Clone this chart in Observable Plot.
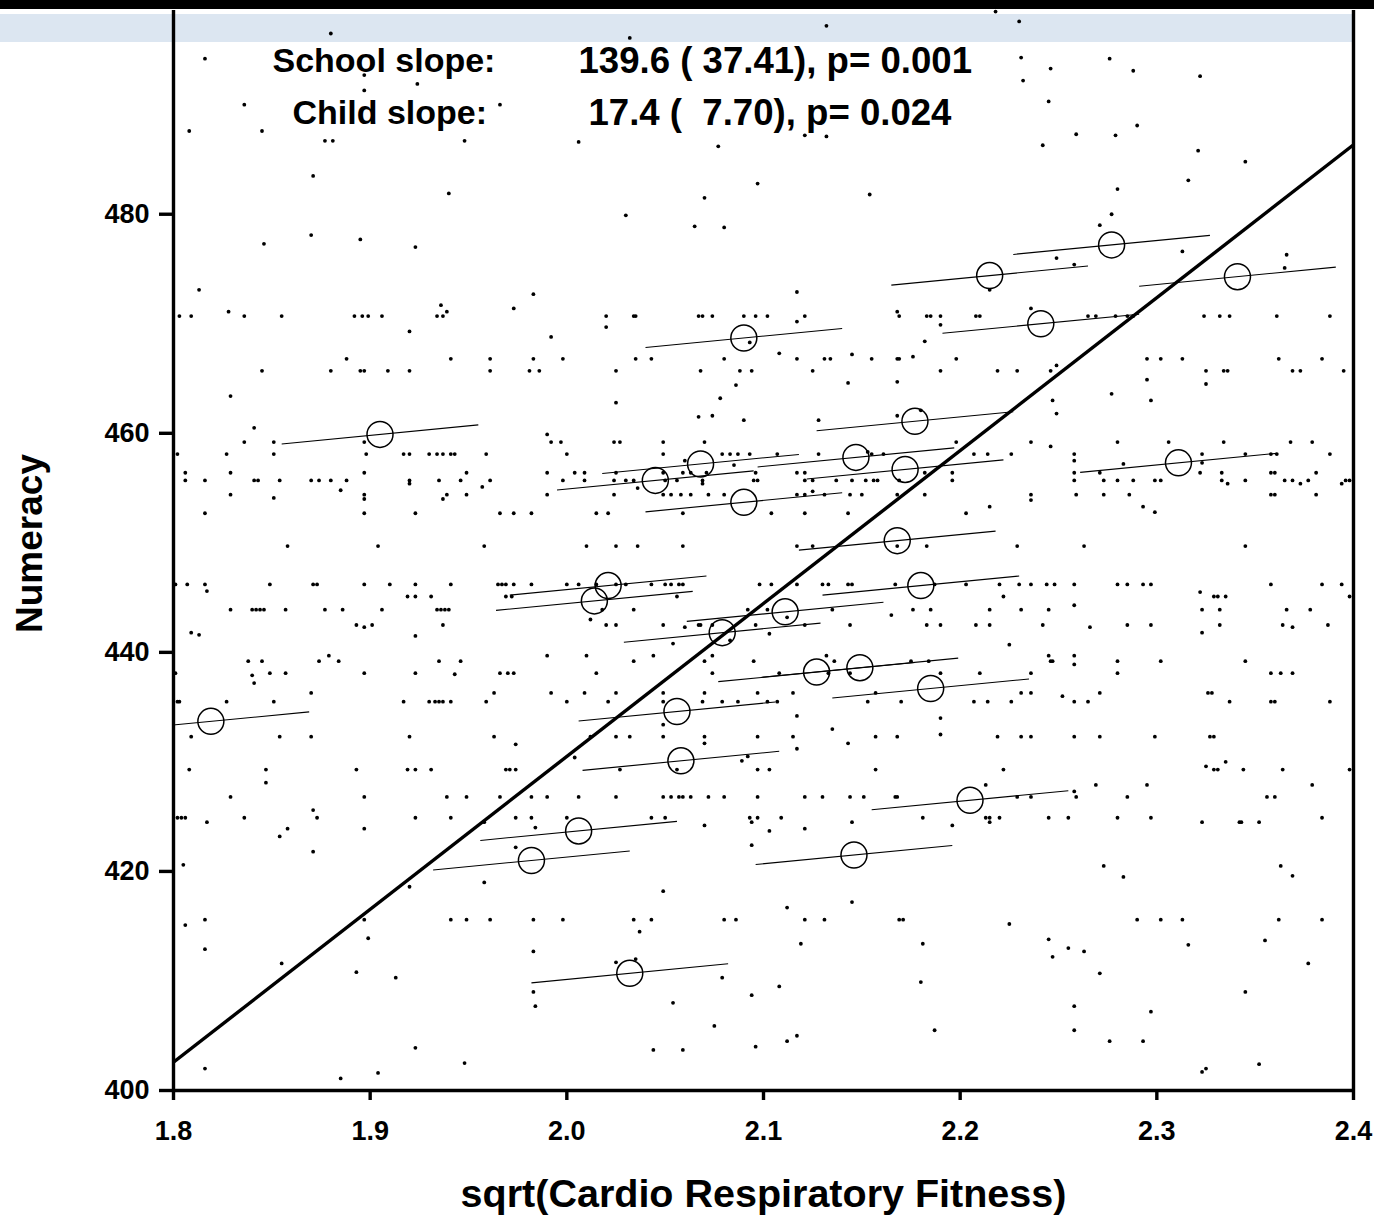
<!DOCTYPE html>
<html>
<head>
<meta charset="utf-8">
<script src="https://cdn.jsdelivr.net/npm/d3@7"></script>
<script src="https://cdn.jsdelivr.net/npm/@observablehq/plot@0.6"></script>
<style>
  body { margin: 0; background: #fff; }
  #wrap { position: relative; width: 1374px; height: 1218px; overflow: hidden; }
  #band { position: absolute; left: 0; top: 14px; width: 1353px; height: 28px; background: #dce6f1; }
  #chart { position: absolute; left: 0; top: 0; }
  #bar { position: absolute; left: 0; top: 0; width: 1374px; height: 9px; background: #000; }
</style>
</head>
<body>
<div id="wrap">
  <div id="band"></div>
  <div id="chart"></div>
  <div id="bar"></div>
</div>
<script>
// Axis domains and ticks
const xDomain = [1.8, 2.4];
const yDomain = [400, 498.6];
const xTicks = [1.8, 1.9, 2.0, 2.1, 2.2, 2.3, 2.4];
const yTicks = [400, 420, 440, 460, 480];

// Multilevel model estimates
const schoolSlope = 139.6;
const schoolIntercept = 151.3;
const childSlope = 17.4;
const childHalfSpan = 0.05; // half-width of each within-school line, in x units
const schoolLabel = "School slope:";
const schoolStat = "139.6 ( 37.41), p= 0.001";
const childLabel = "Child slope:";
const childStat = "17.4 (  7.70), p= 0.024";

// School means (open circles)
const schoolX = [1.819, 1.905, 2.090, 2.215, 2.277, 2.341, 2.241, 2.177, 2.147, 2.172,
  2.068, 2.045, 2.090, 2.311, 2.168, 2.021, 2.014, 2.180, 2.111, 2.079,
  2.127, 2.149, 2.185, 2.056, 2.058, 2.205, 2.006, 1.982, 2.146, 2.032];
const schoolY = [433.7, 459.9, 468.7, 474.4, 477.2, 474.3, 470.0, 461.1, 457.8, 456.7,
  457.2, 455.7, 453.7, 457.3, 450.2, 446.1, 444.7, 446.1, 443.7, 441.8,
  438.2, 438.6, 436.7, 434.6, 430.1, 426.5, 423.7, 421.0, 421.5, 410.7];

// Children sharing a numeracy score: [score, fitness values]
const childRows = [
  [470.7, [1.803, 1.809, 1.836, 1.855, 1.892, 1.896, 1.899, 1.906, 1.934, 1.937, 2.020, 2.034, 2.035, 2.067, 2.069, 2.074, 2.090, 2.096, 2.102, 2.121, 2.169, 2.183, 2.185, 2.190, 2.208, 2.210, 2.265, 2.269, 2.279, 2.285, 2.288, 2.324, 2.332, 2.337, 2.361, 2.388]],
  [466.8, [1.888, 1.941, 1.961, 1.983, 1.998, 2.035, 2.043, 2.080, 2.117, 2.131, 2.134, 2.155, 2.168, 2.169, 2.198, 2.295, 2.302, 2.313, 2.362, 2.384]],
  [465.7, [1.845, 1.880, 1.895, 1.897, 1.909, 1.920, 1.961, 1.981, 1.986, 2.025, 2.068, 2.088, 2.094, 2.125, 2.190, 2.219, 2.229, 2.246, 2.325, 2.334, 2.336, 2.369, 2.373, 2.395]],
  [459.2, [1.836, 1.851, 1.897, 1.992, 1.997, 2.024, 2.027, 2.049, 2.070, 2.198, 2.236, 2.280, 2.306, 2.334, 2.368, 2.379]],
  [458.1, [1.802, 1.827, 1.851, 1.898, 1.917, 1.920, 1.930, 1.934, 1.937, 1.941, 1.943, 1.959, 2.000, 2.049, 2.079, 2.083, 2.087, 2.093, 2.107, 2.128, 2.155, 2.161, 2.207, 2.214, 2.226, 2.258, 2.323, 2.345, 2.358, 2.361, 2.388]],
  [456.4, [1.806, 1.829, 1.897, 1.949, 1.990, 2.004, 2.009, 2.025, 2.049, 2.059, 2.063, 2.071, 2.096, 2.117, 2.121, 2.182, 2.196, 2.258, 2.271, 2.322, 2.333, 2.358, 2.360, 2.381]],
  [455.7, [1.806, 1.816, 1.841, 1.843, 1.854, 1.870, 1.874, 1.880, 1.888, 1.920, 1.935, 1.946, 1.961, 1.998, 2.009, 2.024, 2.030, 2.034, 2.050, 2.056, 2.069, 2.095, 2.097, 2.121, 2.125, 2.137, 2.145, 2.152, 2.156, 2.158, 2.169, 2.196, 2.258, 2.273, 2.280, 2.288, 2.299, 2.302, 2.333, 2.345, 2.365, 2.369, 2.377, 2.396, 2.398]],
  [454.4, [1.829, 1.897, 1.939, 1.949, 1.990, 2.024, 2.049, 2.053, 2.058, 2.063, 2.072, 2.080, 2.117, 2.121, 2.131, 2.144, 2.150, 2.168, 2.182, 2.236, 2.259, 2.273, 2.286, 2.358, 2.360, 2.381]],
  [452.7, [1.816, 1.897, 1.923, 1.966, 1.973, 1.982, 2.015, 2.021, 2.059, 2.104, 2.121, 2.143, 2.203]],
  [449.7, [1.858, 1.904, 1.958, 2.010, 2.025, 2.036, 2.059, 2.117, 2.125, 2.168, 2.183, 2.229, 2.263, 2.345]],
  [446.2, [1.801, 1.807, 1.816, 1.849, 1.871, 1.873, 1.897, 1.910, 1.923, 1.941, 1.965, 1.967, 1.969, 1.973, 1.982, 2.000, 2.006, 2.015, 2.025, 2.030, 2.043, 2.050, 2.053, 2.057, 2.059, 2.098, 2.104, 2.117, 2.130, 2.133, 2.143, 2.145, 2.167, 2.187, 2.203, 2.220, 2.230, 2.236, 2.244, 2.248, 2.258, 2.280, 2.285, 2.293, 2.297, 2.358, 2.384, 2.394]],
  [445.1, [1.919, 1.923, 1.931, 1.969, 1.972, 2.056, 2.222, 2.329, 2.331, 2.335, 2.398]],
  [443.9, [1.829, 1.840, 1.842, 1.844, 1.846, 1.857, 1.877, 1.886, 1.906, 1.934, 1.936, 1.938, 1.940, 2.018, 2.034, 2.092, 2.102, 2.135, 2.176, 2.185, 2.215, 2.231, 2.245, 2.323, 2.332, 2.366, 2.378]],
  [442.5, [1.893, 1.901, 1.937, 2.020, 2.025, 2.049, 2.067, 2.068, 2.074, 2.096, 2.121, 2.144, 2.183, 2.190, 2.208, 2.215, 2.242, 2.285, 2.297, 2.332, 2.364, 2.387]],
  [439.7, [1.879, 1.990, 2.010, 2.044, 2.074, 2.132, 2.245, 2.258]],
  [439.2, [1.838, 1.845, 1.874, 1.884, 1.935, 1.946, 2.034, 2.070, 2.095, 2.136, 2.175, 2.184, 2.246, 2.247, 2.280, 2.302, 2.345]],
  [438.1, [1.801, 1.849, 1.857, 1.897, 1.923, 1.966, 1.970, 1.973, 2.015, 2.074, 2.108, 2.133, 2.144, 2.190, 2.210, 2.236, 2.280, 2.358, 2.363, 2.369]],
  [436.3, [1.870, 1.963, 1.992, 2.009, 2.025, 2.049, 2.070, 2.097, 2.115, 2.157, 2.231, 2.236, 2.271, 2.326, 2.328]],
  [435.5, [1.802, 1.803, 1.827, 1.851, 1.917, 1.930, 1.933, 1.935, 1.937, 1.941, 1.959, 2.000, 2.021, 2.049, 2.069, 2.079, 2.087, 2.102, 2.107, 2.153, 2.170, 2.207, 2.214, 2.226, 2.258, 2.265, 2.337, 2.358, 2.360, 2.388]],
  [432.3, [1.809, 1.854, 1.870, 1.920, 1.963, 2.012, 2.025, 2.032, 2.049, 2.070, 2.097, 2.115, 2.157, 2.168, 2.219, 2.231, 2.236, 2.258, 2.271, 2.299, 2.327, 2.329]],
  [429.3, [1.808, 1.847, 1.893, 1.919, 1.923, 1.931, 1.969, 1.971, 1.974, 2.027, 2.056, 2.097, 2.103, 2.157, 2.222, 2.329, 2.331, 2.344, 2.364, 2.398]],
  [427.9, [2.213, 2.269, 2.295, 2.379]],
  [426.8, [1.829, 1.897, 1.939, 1.949, 1.966, 1.982, 1.990, 2.006, 2.025, 2.049, 2.053, 2.057, 2.059, 2.063, 2.072, 2.080, 2.097, 2.121, 2.130, 2.144, 2.151, 2.167, 2.168, 2.229, 2.236, 2.259, 2.285, 2.356, 2.360]],
  [424.9, [1.802, 1.804, 1.806, 1.836, 1.873, 1.923, 1.941, 1.974, 1.982, 2.000, 2.043, 2.050, 2.093, 2.097, 2.109, 2.181, 2.213, 2.215, 2.220, 2.245, 2.255, 2.280, 2.297, 2.384]],
  [424.5, [1.817, 1.958, 2.094, 2.145, 2.215, 2.323, 2.342, 2.343, 2.352]],
  [415.6, [1.816, 1.897, 1.941, 1.949, 1.961, 1.983, 1.998, 2.034, 2.043, 2.080, 2.086, 2.121, 2.131, 2.169, 2.171, 2.290, 2.302, 2.313, 2.362, 2.384]]
];

// Remaining children: [fitness, numeracy]
const childOther = [
  [1.880, 496.5], [1.816, 494.2], [1.897, 492.7], [1.924, 491.9], [1.897, 491.3], [1.836, 490.0], [1.966, 490.0],
  [1.808, 487.6], [1.845, 487.6], [1.877, 486.7], [1.881, 486.7], [1.948, 486.7], [1.871, 483.5], [1.940, 481.9],
  [1.870, 478.1], [1.895, 477.7], [1.846, 477.3], [1.923, 477.0], [1.813, 473.1], [1.983, 472.7], [1.936, 471.7],
  [1.973, 471.4], [1.939, 471.1], [1.828, 471.1], [1.920, 469.3], [1.992, 468.8], [1.829, 463.4], [1.841, 460.5],
  [1.990, 459.9], [1.920, 455.4], [1.885, 454.8], [1.957, 455.1], [1.851, 454.1], [1.897, 454.0], [1.937, 454.0],
  [2.032, 496.1], [2.132, 497.2], [2.006, 486.6], [2.077, 486.2], [2.121, 487.2], [2.132, 487.1], [2.097, 482.8],
  [2.070, 481.5], [2.154, 481.8], [2.030, 479.9], [2.065, 478.9], [2.080, 478.8], [2.117, 472.9], [2.168, 471.1],
  [2.020, 469.7], [2.117, 470.2], [2.190, 469.9], [2.093, 468.3], [2.182, 468.4], [2.108, 467.3], [2.145, 467.2],
  [2.176, 467.0], [2.086, 464.4], [2.143, 464.6], [2.168, 464.7], [2.025, 462.8], [2.078, 463.2], [2.067, 461.5],
  [2.074, 461.6], [2.090, 461.2], [2.128, 461.2], [2.168, 461.6], [2.180, 462.1], [2.060, 457.5], [2.085, 457.1],
  [2.153, 458.3], [2.036, 455.0], [2.069, 455.4], [2.125, 454.7],
  [2.218, 498.5], [2.230, 497.6], [2.231, 494.3], [2.276, 494.2], [2.246, 493.3], [2.288, 493.1], [2.322, 492.6],
  [2.232, 492.2], [2.245, 490.3], [2.290, 488.1], [2.259, 487.3], [2.279, 487.2], [2.242, 486.3], [2.321, 485.8],
  [2.345, 484.8], [2.316, 483.1], [2.280, 482.3], [2.277, 480.0], [2.271, 479.0], [2.313, 476.6], [2.366, 476.3],
  [2.249, 476.0], [2.258, 475.4], [2.365, 475.1], [2.215, 473.1], [2.236, 471.4], [2.249, 466.2], [2.295, 464.9],
  [2.325, 464.5], [2.277, 463.6], [2.247, 463.0], [2.297, 463.0], [2.249, 461.8], [2.246, 458.8], [2.283, 457.2],
  [2.258, 457.5], [2.323, 457.3], [2.336, 455.4], [2.373, 455.4], [2.394, 455.4], [2.236, 453.9], [2.215, 453.3],
  [2.293, 453.3], [2.299, 452.8],
  [1.817, 445.6], [1.897, 442.3], [1.809, 441.8], [1.813, 441.6], [1.923, 441.5], [1.840, 437.9], [1.841, 437.2],
  [1.943, 438.0], [1.974, 431.6], [1.847, 428.1], [1.871, 425.6], [1.984, 424.0], [1.858, 423.9], [1.854, 423.2],
  [1.897, 423.9], [1.974, 422.2], [1.871, 421.8], [1.805, 420.6], [1.958, 419.0], [1.920, 418.6], [1.806, 415.1],
  [1.899, 413.9], [1.816, 412.9], [1.983, 412.7], [1.855, 411.6], [1.893, 410.8], [1.913, 410.3], [1.983, 409.0],
  [1.984, 407.7], [1.923, 403.9], [1.948, 402.5], [1.816, 402.0], [1.904, 401.6], [1.885, 401.1],
  [2.112, 443.2], [2.165, 443.4], [2.012, 443.0], [2.060, 442.3], [2.103, 441.7], [2.083, 441.1], [2.054, 440.8],
  [2.117, 434.2], [2.135, 433.0], [2.190, 434.0], [2.190, 432.5], [2.049, 433.4], [2.070, 431.7], [2.143, 431.7],
  [2.117, 431.2], [2.092, 430.5], [2.089, 430.1], [2.004, 430.4], [2.070, 424.2], [2.121, 423.9], [2.103, 423.7],
  [2.196, 424.2], [2.094, 422.4], [2.049, 418.2], [2.145, 417.2], [2.112, 416.7], [2.037, 414.5], [2.119, 413.4],
  [2.181, 413.4], [2.025, 411.7], [2.035, 412.0], [2.079, 410.3], [2.180, 409.9], [2.108, 409.5], [2.094, 408.7],
  [2.054, 408.0], [2.075, 405.9], [2.187, 405.5], [2.117, 405.0], [2.112, 404.5], [2.044, 403.7], [2.059, 403.7],
  [2.096, 404.0],
  [2.322, 445.5], [2.258, 444.3], [2.266, 442.3], [2.369, 442.3], [2.323, 441.8], [2.225, 440.7], [2.258, 438.9],
  [2.252, 436.0], [2.325, 429.6], [2.335, 430.0], [2.258, 427.3], [2.273, 420.5], [2.363, 420.5], [2.283, 419.5],
  [2.369, 419.6], [2.225, 415.2], [2.245, 413.8], [2.316, 413.3], [2.355, 413.7], [2.255, 413.0], [2.263, 412.7],
  [2.247, 412.2], [2.377, 411.6], [2.271, 410.7], [2.345, 409.0], [2.258, 407.7], [2.297, 407.2], [2.258, 405.5],
  [2.276, 404.5], [2.293, 404.5], [2.352, 402.4], [2.325, 402.0], [2.323, 401.7]
];

// Build mark data from the arrays above
const children = childRows
  .flatMap(([y, xs]) => xs.map((x) => ({x, y})))
  .concat(childOther.map(([x, y]) => ({x, y})));
const schools = schoolX.map((x, i) => ({x, y: schoolY[i]}));
const withinSchool = schools.map(({x, y}) => ({
  x1: x - childHalfSpan, y1: y - childSlope * childHalfSpan,
  x2: x + childHalfSpan, y2: y + childSlope * childHalfSpan
}));
const betweenSchool = [{
  x1: xDomain[0], y1: schoolIntercept + schoolSlope * xDomain[0],
  x2: xDomain[1], y2: schoolIntercept + schoolSlope * xDomain[1]
}];

const font = "'Liberation Sans', Arial, Helvetica, sans-serif";
const bold = {fontWeight: "bold", fontFamily: font};

const chart = Plot.plot({
  width: 1374,
  height: 1218,
  marginLeft: 173,
  marginRight: 21,
  marginTop: 10,
  marginBottom: 128,
  style: {background: "transparent", fontFamily: font, overflow: "visible", color: "black"},
  x: {domain: xDomain},
  y: {domain: yDomain},
  marks: [
    Plot.dot(children, {x: "x", y: "y", r: 1.9, fill: "black"}),
    Plot.link(withinSchool, {x1: "x1", y1: "y1", x2: "x2", y2: "y2", stroke: "black", strokeWidth: 1.1, clip: true}),
    Plot.dot(schools, {x: "x", y: "y", r: 13, stroke: "black", strokeWidth: 1.5, fill: "none"}),
    Plot.link(betweenSchool, {x1: "x1", y1: "y1", x2: "x2", y2: "y2", stroke: "black", strokeWidth: 3.4, clip: true}),
    Plot.ruleX(xDomain, {stroke: "black", strokeWidth: 3.4}),
    Plot.ruleY([yDomain[0]], {stroke: "black", strokeWidth: 3.4}),
    Plot.axisX({ticks: xTicks, tickFormat: d3.format(".1f"), tickSize: 10, tickPadding: 20,
      fontSize: 27, ...bold, strokeWidth: 3.4, label: null}),
    Plot.axisY({ticks: yTicks, tickFormat: d3.format("d"), tickSize: 14, tickPadding: 10,
      fontSize: 27, ...bold, strokeWidth: 3.4, label: null}),
    Plot.text([schoolLabel], {text: (d) => d, frameAnchor: "top-left", dx: 99, dy: 51,
      textAnchor: "start", lineAnchor: "middle", fontSize: 34, ...bold}),
    Plot.text([schoolStat], {text: (d) => d, frameAnchor: "top-left", dx: 405, dy: 51,
      textAnchor: "start", lineAnchor: "middle", fontSize: 36.6, ...bold}),
    Plot.text([childLabel], {text: (d) => d, frameAnchor: "top-left", dx: 119, dy: 103,
      textAnchor: "start", lineAnchor: "middle", fontSize: 34, ...bold}),
    Plot.text([childStat], {text: (d) => d, frameAnchor: "top-left", dx: 415, dy: 103,
      textAnchor: "start", lineAnchor: "middle", fontSize: 36.6, ...bold}),
    Plot.text(["sqrt(Cardio Respiratory Fitness)"], {text: (d) => d, frameAnchor: "bottom", dy: 104,
      textAnchor: "middle", lineAnchor: "middle", fontSize: 39.5, ...bold}),
    Plot.text(["Numeracy"], {text: (d) => d, frameAnchor: "left", dx: -143, dy: -7, rotate: -90,
      textAnchor: "middle", lineAnchor: "middle", fontSize: 37, ...bold})
  ]
});

document.getElementById("chart").appendChild(chart);
</script>
</body>
</html>
